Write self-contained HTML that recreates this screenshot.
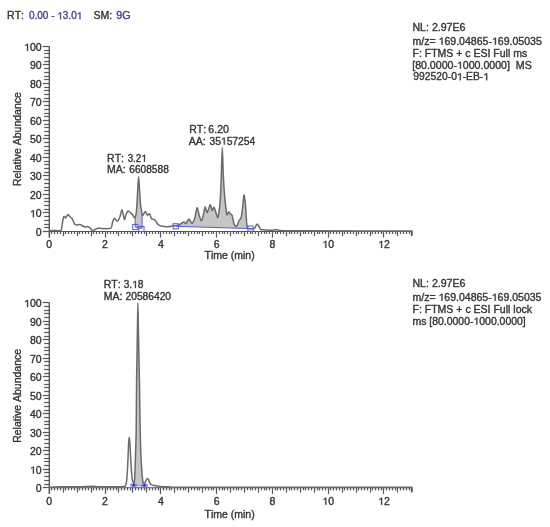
<!DOCTYPE html>
<html><head><meta charset="utf-8">
<style>
html,body{margin:0;padding:0;background:#fff;}
body{width:550px;height:527px;overflow:hidden;position:relative;}
svg{position:absolute;left:0;top:0;will-change:transform;filter:blur(0.45px);}
text{font-family:"Liberation Sans",sans-serif;font-size:10.5px;fill:#363636;stroke:#363636;stroke-width:0.38px;font-kerning:none;}
text.b{fill:#44449a;stroke:#44449a;}
.yl{text-anchor:end;}
.xl{text-anchor:middle;}
.xt{text-anchor:middle;}
.yt{text-anchor:middle;}
.b{fill:#44449a;}
.ax{stroke:#505050;stroke-width:1.05;}
.tk{stroke:#5a5a5a;stroke-width:1.25;}
.cv{fill:none;stroke:#6a6a6a;stroke-width:1.5;stroke-linejoin:round;}
.fl{fill:#c6c6c6;stroke:none;}
.bl{stroke:#5a5ad8;stroke-width:1;}
.bl2{stroke:#9a9af5;stroke-width:1.4;}
.bx{fill:none;stroke:#5a5ad8;stroke-width:1;}
.mk{fill:#7a7af0;opacity:.8;}
.mkc{fill:#2a2ab0;}
tspan.o{fill-opacity:0;stroke-opacity:0;}
.on{fill:#363636;stroke:#363636;stroke-width:0.38px;vector-effect:non-scaling-stroke;}
.ob{fill:#44449a;stroke:#44449a;stroke-width:0.38px;vector-effect:non-scaling-stroke;}
</style></head>
<body>
<svg width="550" height="527" viewBox="0 0 550 527">
<text x="7.1" y="19.3" id="h1" transform="matrix(1 0 0 0.96 0 0.77)">RT:</text>
<text x="28.94" y="19.3" id="h2" class="b" textLength="53.34" lengthAdjust="spacingAndGlyphs" transform="matrix(1 0 0 0.96 0 0.77)">0.00 - <tspan class="o">1</tspan>3.0<tspan class="o">1</tspan></text>
<text x="93.4" y="19.3" id="h3" transform="matrix(1 0 0 0.96 0 0.77)">SM:</text>
<text x="116.21" y="19.3" id="h4" class="b" textLength="14.46" lengthAdjust="spacingAndGlyphs" transform="matrix(1 0 0 0.96 0 0.77)">9G</text>
<text x="412.49" y="31" id="i1" textLength="52.99" lengthAdjust="spacingAndGlyphs" transform="matrix(1 0 0 0.96 0 1.24)">NL: 2.97E6</text>
<text x="412.5" y="44.7" id="i2" textLength="129.34" lengthAdjust="spacingAndGlyphs" transform="matrix(1 0 0 0.96 0 1.79)">m/z= <tspan class="o">1</tspan>69.04865-<tspan class="o">1</tspan>69.05035</text>
<text x="412.5" y="56.9" id="i3" textLength="114.64" lengthAdjust="spacingAndGlyphs" transform="matrix(1 0 0 0.96 0 2.28)">F: FTMS + c ESI Full ms</text>
<text x="412.2" y="68.8" id="i4" textLength="119.52" lengthAdjust="spacingAndGlyphs" transform="matrix(1 0 0 0.96 0 2.75)">[80.0000-<tspan class="o">1</tspan>000.0000]  MS</text>
<text x="413.2" y="80.2" id="i5" textLength="75.86" lengthAdjust="spacingAndGlyphs" transform="matrix(1 0 0 0.96 0 3.21)">992520-0<tspan class="o">1</tspan>-EB-<tspan class="o">1</tspan></text>
<text x="412.49" y="287.1" id="j1" textLength="52.99" lengthAdjust="spacingAndGlyphs" transform="matrix(1 0 0 0.96 0 11.48)">NL: 2.97E6</text>
<text x="412.5" y="300.8" id="j2" textLength="128.93" lengthAdjust="spacingAndGlyphs" transform="matrix(1 0 0 0.96 0 12.03)">m/z= <tspan class="o">1</tspan>69.04865-<tspan class="o">1</tspan>69.05035</text>
<text x="412.5" y="312.9" id="j3" textLength="119.52" lengthAdjust="spacingAndGlyphs" transform="matrix(1 0 0 0.96 0 12.52)">F: FTMS + c ESI Full lock</text>
<text x="412.5" y="324.6" id="j4" textLength="113.25" lengthAdjust="spacingAndGlyphs" transform="matrix(1 0 0 0.96 0 12.98)">ms [80.0000-<tspan class="o">1</tspan>000.0000]</text>
<text x="107.1" y="161.8" id="a1" transform="matrix(1 0 0 0.96 0 6.47)">RT:</text>
<text x="127.67" y="161.8" id="a2" textLength="19.09" lengthAdjust="spacingAndGlyphs" transform="matrix(1 0 0 0.96 0 6.47)">3.2<tspan class="o">1</tspan></text>
<text x="107.1" y="173.4" id="a3" transform="matrix(1 0 0 0.96 0 6.94)">MA:</text>
<text x="129.3" y="173.4" id="a4" textLength="39.49" lengthAdjust="spacingAndGlyphs" transform="matrix(1 0 0 0.96 0 6.94)">6608588</text>
<text x="189.3" y="132.8" id="b1" transform="matrix(1 0 0 0.96 0 5.31)">RT:</text>
<text x="208.35" y="132.8" id="b2" textLength="20.52" lengthAdjust="spacingAndGlyphs" transform="matrix(1 0 0 0.96 0 5.31)">6.20</text>
<text x="188.8" y="144.6" id="b3" transform="matrix(1 0 0 0.96 0 5.78)">AA:</text>
<text x="209.4" y="144.6" id="b4" textLength="45.94" lengthAdjust="spacingAndGlyphs" transform="matrix(1 0 0 0.96 0 5.78)">35<tspan class="o">1</tspan>57254</text>
<text x="103.8" y="287.9" id="c1" transform="matrix(1 0 0 0.96 0 11.52)">RT:</text>
<text x="123.65" y="287.9" id="c2" textLength="19.72" lengthAdjust="spacingAndGlyphs" transform="matrix(1 0 0 0.96 0 11.52)">3.<tspan class="o">1</tspan>8</text>
<text x="103.8" y="299.6" id="c3" transform="matrix(1 0 0 0.96 0 11.98)">MA:</text>
<text x="125.51" y="299.6" id="c4" textLength="45.54" lengthAdjust="spacingAndGlyphs" transform="matrix(1 0 0 0.96 0 11.98)">20586420</text>
<g transform="matrix(1 0 0 0.96 0 0.77)"><path class="ob" transform="translate(57.27 19.3) scale(0.004879 -0.005127)" d="M583 0H763V1409H600L223 1150V980L583 1225Z"/></g>
<g transform="matrix(1 0 0 0.96 0 0.77)"><path class="ob" transform="translate(76.72 19.3) scale(0.004879 -0.005127)" d="M583 0H763V1409H600L223 1150V980L583 1225Z"/></g>
<g transform="matrix(1 0 0 0.96 0 1.79)"><path class="on" transform="translate(438.6 44.7) scale(0.005151 -0.005127)" d="M583 0H763V1409H600L223 1150V980L583 1225Z"/></g>
<g transform="matrix(1 0 0 0.96 0 1.79)"><path class="on" transform="translate(491.97 44.7) scale(0.005151 -0.005127)" d="M583 0H763V1409H600L223 1150V980L583 1225Z"/></g>
<g transform="matrix(1 0 0 0.96 0 2.75)"><path class="on" transform="translate(456.95 68.8) scale(0.005171 -0.005127)" d="M583 0H763V1409H600L223 1150V980L583 1225Z"/></g>
<g transform="matrix(1 0 0 0.96 0 3.21)"><path class="on" transform="translate(456.89 80.2) scale(0.005048 -0.005127)" d="M583 0H763V1409H600L223 1150V980L583 1225Z"/></g>
<g transform="matrix(1 0 0 0.96 0 3.21)"><path class="on" transform="translate(483.31 80.2) scale(0.005048 -0.005127)" d="M583 0H763V1409H600L223 1150V980L583 1225Z"/></g>
<g transform="matrix(1 0 0 0.96 0 12.03)"><path class="on" transform="translate(438.51 300.8) scale(0.005134 -0.005127)" d="M583 0H763V1409H600L223 1150V980L583 1225Z"/></g>
<g transform="matrix(1 0 0 0.96 0 12.03)"><path class="on" transform="translate(491.72 300.8) scale(0.005134 -0.005127)" d="M583 0H763V1409H600L223 1150V980L583 1225Z"/></g>
<g transform="matrix(1 0 0 0.96 0 12.98)"><path class="on" transform="translate(473.47 324.6) scale(0.005100 -0.005127)" d="M583 0H763V1409H600L223 1150V980L583 1225Z"/></g>
<g transform="matrix(1 0 0 0.96 0 6.47)"><path class="on" transform="translate(141.31 161.8) scale(0.004789 -0.005127)" d="M583 0H763V1409H600L223 1150V980L583 1225Z"/></g>
<g transform="matrix(1 0 0 0.96 0 5.78)"><path class="on" transform="translate(220.88 144.6) scale(0.005042 -0.005127)" d="M583 0H763V1409H600L223 1150V980L583 1225Z"/></g>
<g transform="matrix(1 0 0 0.96 0 11.52)"><path class="on" transform="translate(132.1 287.9) scale(0.004947 -0.005127)" d="M583 0H763V1409H600L223 1150V980L583 1225Z"/></g>
<g transform="matrix(1 0 0 0.96 0 8.69)"><path class="on" transform="translate(29.93 217.21) scale(0.005122 -0.005127)" d="M583 0H763V1409H600L223 1150V980L583 1225Z"/></g>
<g transform="matrix(1 0 0 0.96 0 2.03)"><path class="on" transform="translate(24.1 50.8) scale(0.005122 -0.005127)" d="M583 0H763V1409H600L223 1150V980L583 1225Z"/></g>
<g transform="matrix(1 0 0 0.96 0 9.92)"><path class="on" transform="translate(322.37 247.9) scale(0.005122 -0.005127)" d="M583 0H763V1409H600L223 1150V980L583 1225Z"/></g>
<g transform="matrix(1 0 0 0.96 0 9.92)"><path class="on" transform="translate(378.17 247.9) scale(0.005122 -0.005127)" d="M583 0H763V1409H600L223 1150V980L583 1225Z"/></g>
<g transform="matrix(1 0 0 0.96 0 18.94)"><path class="on" transform="translate(29.93 473.59) scale(0.005122 -0.005127)" d="M583 0H763V1409H600L223 1150V980L583 1225Z"/></g>
<g transform="matrix(1 0 0 0.96 0 12.28)"><path class="on" transform="translate(24.1 307) scale(0.005122 -0.005127)" d="M583 0H763V1409H600L223 1150V980L583 1225Z"/></g>
<g transform="matrix(1 0 0 0.96 0 20.19)"><path class="on" transform="translate(322.37 504.8) scale(0.005122 -0.005127)" d="M583 0H763V1409H600L223 1150V980L583 1225Z"/></g>
<g transform="matrix(1 0 0 0.96 0 20.19)"><path class="on" transform="translate(378.17 504.8) scale(0.005122 -0.005127)" d="M583 0H763V1409H600L223 1150V980L583 1225Z"/></g>

<line x1="42.8" y1="231.5" x2="49.2" y2="231.5" class="tk"/>
<text x="41.6" y="235.7" class="yl" transform="matrix(1 0 0 0.96 0 9.43)">0</text>
<line x1="44.2" y1="227.5" x2="49.2" y2="227.5" class="tk"/>
<line x1="44.2" y1="224.5" x2="49.2" y2="224.5" class="tk"/>
<line x1="44.2" y1="220.5" x2="49.2" y2="220.5" class="tk"/>
<line x1="44.2" y1="216.5" x2="49.2" y2="216.5" class="tk"/>
<line x1="42.8" y1="212.5" x2="49.2" y2="212.5" class="tk"/>
<text x="41.6" y="217.21" class="yl" transform="matrix(1 0 0 0.96 0 8.69)"><tspan class="o">1</tspan>0</text>
<line x1="44.2" y1="209.5" x2="49.2" y2="209.5" class="tk"/>
<line x1="44.2" y1="205.5" x2="49.2" y2="205.5" class="tk"/>
<line x1="44.2" y1="201.5" x2="49.2" y2="201.5" class="tk"/>
<line x1="44.2" y1="198.5" x2="49.2" y2="198.5" class="tk"/>
<line x1="42.8" y1="194.5" x2="49.2" y2="194.5" class="tk"/>
<text x="41.6" y="198.72" class="yl" transform="matrix(1 0 0 0.96 0 7.95)">20</text>
<line x1="44.2" y1="190.5" x2="49.2" y2="190.5" class="tk"/>
<line x1="44.2" y1="187.5" x2="49.2" y2="187.5" class="tk"/>
<line x1="44.2" y1="183.5" x2="49.2" y2="183.5" class="tk"/>
<line x1="44.2" y1="179.5" x2="49.2" y2="179.5" class="tk"/>
<line x1="42.8" y1="175.5" x2="49.2" y2="175.5" class="tk"/>
<text x="41.6" y="180.23" class="yl" transform="matrix(1 0 0 0.96 0 7.21)">30</text>
<line x1="44.2" y1="172.5" x2="49.2" y2="172.5" class="tk"/>
<line x1="44.2" y1="168.5" x2="49.2" y2="168.5" class="tk"/>
<line x1="44.2" y1="164.5" x2="49.2" y2="164.5" class="tk"/>
<line x1="44.2" y1="161.5" x2="49.2" y2="161.5" class="tk"/>
<line x1="42.8" y1="157.5" x2="49.2" y2="157.5" class="tk"/>
<text x="41.6" y="161.74" class="yl" transform="matrix(1 0 0 0.96 0 6.47)">40</text>
<line x1="44.2" y1="153.5" x2="49.2" y2="153.5" class="tk"/>
<line x1="44.2" y1="150.5" x2="49.2" y2="150.5" class="tk"/>
<line x1="44.2" y1="146.5" x2="49.2" y2="146.5" class="tk"/>
<line x1="44.2" y1="142.5" x2="49.2" y2="142.5" class="tk"/>
<line x1="42.8" y1="138.5" x2="49.2" y2="138.5" class="tk"/>
<text x="41.6" y="143.25" class="yl" transform="matrix(1 0 0 0.96 0 5.73)">50</text>
<line x1="44.2" y1="135.5" x2="49.2" y2="135.5" class="tk"/>
<line x1="44.2" y1="131.5" x2="49.2" y2="131.5" class="tk"/>
<line x1="44.2" y1="127.5" x2="49.2" y2="127.5" class="tk"/>
<line x1="44.2" y1="124.5" x2="49.2" y2="124.5" class="tk"/>
<line x1="42.8" y1="120.5" x2="49.2" y2="120.5" class="tk"/>
<text x="41.6" y="124.76" class="yl" transform="matrix(1 0 0 0.96 0 4.99)">60</text>
<line x1="44.2" y1="116.5" x2="49.2" y2="116.5" class="tk"/>
<line x1="44.2" y1="113.5" x2="49.2" y2="113.5" class="tk"/>
<line x1="44.2" y1="109.5" x2="49.2" y2="109.5" class="tk"/>
<line x1="44.2" y1="105.5" x2="49.2" y2="105.5" class="tk"/>
<line x1="42.8" y1="101.5" x2="49.2" y2="101.5" class="tk"/>
<text x="41.6" y="106.27" class="yl" transform="matrix(1 0 0 0.96 0 4.25)">70</text>
<line x1="44.2" y1="98.5" x2="49.2" y2="98.5" class="tk"/>
<line x1="44.2" y1="94.5" x2="49.2" y2="94.5" class="tk"/>
<line x1="44.2" y1="90.5" x2="49.2" y2="90.5" class="tk"/>
<line x1="44.2" y1="87.5" x2="49.2" y2="87.5" class="tk"/>
<line x1="42.8" y1="83.5" x2="49.2" y2="83.5" class="tk"/>
<text x="41.6" y="87.78" class="yl" transform="matrix(1 0 0 0.96 0 3.51)">80</text>
<line x1="44.2" y1="79.5" x2="49.2" y2="79.5" class="tk"/>
<line x1="44.2" y1="76.5" x2="49.2" y2="76.5" class="tk"/>
<line x1="44.2" y1="72.5" x2="49.2" y2="72.5" class="tk"/>
<line x1="44.2" y1="68.5" x2="49.2" y2="68.5" class="tk"/>
<line x1="42.8" y1="64.5" x2="49.2" y2="64.5" class="tk"/>
<text x="41.6" y="69.29" class="yl" transform="matrix(1 0 0 0.96 0 2.77)">90</text>
<line x1="44.2" y1="61.5" x2="49.2" y2="61.5" class="tk"/>
<line x1="44.2" y1="57.5" x2="49.2" y2="57.5" class="tk"/>
<line x1="44.2" y1="53.5" x2="49.2" y2="53.5" class="tk"/>
<line x1="44.2" y1="50.5" x2="49.2" y2="50.5" class="tk"/>
<line x1="42.8" y1="46.5" x2="49.2" y2="46.5" class="tk"/>
<text x="41.6" y="50.8" class="yl" transform="matrix(1 0 0 0.96 0 2.03)"><tspan class="o">1</tspan>00</text>
<line x1="49.3" y1="46.3" x2="49.3" y2="237.6" class="ax" style="stroke-width:1.3"/>
<line x1="49.2" y1="231.4" x2="412.68" y2="231.4" class="ax"/>
<line x1="49.5" y1="231.4" x2="49.5" y2="237.6" class="tk"/>
<text x="49.2" y="247.9" class="xl" transform="matrix(1 0 0 0.96 0 9.92)">0</text>
<line x1="51.5" y1="231.4" x2="51.5" y2="234" class="tk"/>
<line x1="54.5" y1="231.4" x2="54.5" y2="234" class="tk"/>
<line x1="57.5" y1="231.4" x2="57.5" y2="234" class="tk"/>
<line x1="60.5" y1="231.4" x2="60.5" y2="234" class="tk"/>
<line x1="63.5" y1="231.4" x2="63.5" y2="236.2" class="tk"/>
<line x1="65.5" y1="231.4" x2="65.5" y2="234" class="tk"/>
<line x1="68.5" y1="231.4" x2="68.5" y2="234" class="tk"/>
<line x1="71.5" y1="231.4" x2="71.5" y2="234" class="tk"/>
<line x1="74.5" y1="231.4" x2="74.5" y2="234" class="tk"/>
<line x1="77.5" y1="231.4" x2="77.5" y2="236.2" class="tk"/>
<line x1="79.5" y1="231.4" x2="79.5" y2="234" class="tk"/>
<line x1="82.5" y1="231.4" x2="82.5" y2="234" class="tk"/>
<line x1="85.5" y1="231.4" x2="85.5" y2="234" class="tk"/>
<line x1="88.5" y1="231.4" x2="88.5" y2="234" class="tk"/>
<line x1="91.5" y1="231.4" x2="91.5" y2="236.2" class="tk"/>
<line x1="93.5" y1="231.4" x2="93.5" y2="234" class="tk"/>
<line x1="96.5" y1="231.4" x2="96.5" y2="234" class="tk"/>
<line x1="99.5" y1="231.4" x2="99.5" y2="234" class="tk"/>
<line x1="102.5" y1="231.4" x2="102.5" y2="234" class="tk"/>
<line x1="105.5" y1="231.4" x2="105.5" y2="237.6" class="tk"/>
<text x="105" y="247.9" class="xl" transform="matrix(1 0 0 0.96 0 9.92)">2</text>
<line x1="107.5" y1="231.4" x2="107.5" y2="234" class="tk"/>
<line x1="110.5" y1="231.4" x2="110.5" y2="234" class="tk"/>
<line x1="113.5" y1="231.4" x2="113.5" y2="234" class="tk"/>
<line x1="116.5" y1="231.4" x2="116.5" y2="234" class="tk"/>
<line x1="118.5" y1="231.4" x2="118.5" y2="236.2" class="tk"/>
<line x1="121.5" y1="231.4" x2="121.5" y2="234" class="tk"/>
<line x1="124.5" y1="231.4" x2="124.5" y2="234" class="tk"/>
<line x1="127.5" y1="231.4" x2="127.5" y2="234" class="tk"/>
<line x1="130.5" y1="231.4" x2="130.5" y2="234" class="tk"/>
<line x1="132.5" y1="231.4" x2="132.5" y2="236.2" class="tk"/>
<line x1="135.5" y1="231.4" x2="135.5" y2="234" class="tk"/>
<line x1="138.5" y1="231.4" x2="138.5" y2="234" class="tk"/>
<line x1="141.5" y1="231.4" x2="141.5" y2="234" class="tk"/>
<line x1="144.5" y1="231.4" x2="144.5" y2="234" class="tk"/>
<line x1="146.5" y1="231.4" x2="146.5" y2="236.2" class="tk"/>
<line x1="149.5" y1="231.4" x2="149.5" y2="234" class="tk"/>
<line x1="152.5" y1="231.4" x2="152.5" y2="234" class="tk"/>
<line x1="155.5" y1="231.4" x2="155.5" y2="234" class="tk"/>
<line x1="158.5" y1="231.4" x2="158.5" y2="234" class="tk"/>
<line x1="160.5" y1="231.4" x2="160.5" y2="237.6" class="tk"/>
<text x="160.8" y="247.9" class="xl" transform="matrix(1 0 0 0.96 0 9.92)">4</text>
<line x1="163.5" y1="231.4" x2="163.5" y2="234" class="tk"/>
<line x1="166.5" y1="231.4" x2="166.5" y2="234" class="tk"/>
<line x1="169.5" y1="231.4" x2="169.5" y2="234" class="tk"/>
<line x1="171.5" y1="231.4" x2="171.5" y2="234" class="tk"/>
<line x1="174.5" y1="231.4" x2="174.5" y2="236.2" class="tk"/>
<line x1="177.5" y1="231.4" x2="177.5" y2="234" class="tk"/>
<line x1="180.5" y1="231.4" x2="180.5" y2="234" class="tk"/>
<line x1="183.5" y1="231.4" x2="183.5" y2="234" class="tk"/>
<line x1="185.5" y1="231.4" x2="185.5" y2="234" class="tk"/>
<line x1="188.5" y1="231.4" x2="188.5" y2="236.2" class="tk"/>
<line x1="191.5" y1="231.4" x2="191.5" y2="234" class="tk"/>
<line x1="194.5" y1="231.4" x2="194.5" y2="234" class="tk"/>
<line x1="197.5" y1="231.4" x2="197.5" y2="234" class="tk"/>
<line x1="199.5" y1="231.4" x2="199.5" y2="234" class="tk"/>
<line x1="202.5" y1="231.4" x2="202.5" y2="236.2" class="tk"/>
<line x1="205.5" y1="231.4" x2="205.5" y2="234" class="tk"/>
<line x1="208.5" y1="231.4" x2="208.5" y2="234" class="tk"/>
<line x1="211.5" y1="231.4" x2="211.5" y2="234" class="tk"/>
<line x1="213.5" y1="231.4" x2="213.5" y2="234" class="tk"/>
<line x1="216.5" y1="231.4" x2="216.5" y2="237.6" class="tk"/>
<text x="216.6" y="247.9" class="xl" transform="matrix(1 0 0 0.96 0 9.92)">6</text>
<line x1="219.5" y1="231.4" x2="219.5" y2="234" class="tk"/>
<line x1="222.5" y1="231.4" x2="222.5" y2="234" class="tk"/>
<line x1="224.5" y1="231.4" x2="224.5" y2="234" class="tk"/>
<line x1="227.5" y1="231.4" x2="227.5" y2="234" class="tk"/>
<line x1="230.5" y1="231.4" x2="230.5" y2="236.2" class="tk"/>
<line x1="233.5" y1="231.4" x2="233.5" y2="234" class="tk"/>
<line x1="236.5" y1="231.4" x2="236.5" y2="234" class="tk"/>
<line x1="238.5" y1="231.4" x2="238.5" y2="234" class="tk"/>
<line x1="241.5" y1="231.4" x2="241.5" y2="234" class="tk"/>
<line x1="244.5" y1="231.4" x2="244.5" y2="236.2" class="tk"/>
<line x1="247.5" y1="231.4" x2="247.5" y2="234" class="tk"/>
<line x1="250.5" y1="231.4" x2="250.5" y2="234" class="tk"/>
<line x1="252.5" y1="231.4" x2="252.5" y2="234" class="tk"/>
<line x1="255.5" y1="231.4" x2="255.5" y2="234" class="tk"/>
<line x1="258.5" y1="231.4" x2="258.5" y2="236.2" class="tk"/>
<line x1="261.5" y1="231.4" x2="261.5" y2="234" class="tk"/>
<line x1="264.5" y1="231.4" x2="264.5" y2="234" class="tk"/>
<line x1="266.5" y1="231.4" x2="266.5" y2="234" class="tk"/>
<line x1="269.5" y1="231.4" x2="269.5" y2="234" class="tk"/>
<line x1="272.5" y1="231.4" x2="272.5" y2="237.6" class="tk"/>
<text x="272.4" y="247.9" class="xl" transform="matrix(1 0 0 0.96 0 9.92)">8</text>
<line x1="275.5" y1="231.4" x2="275.5" y2="234" class="tk"/>
<line x1="277.5" y1="231.4" x2="277.5" y2="234" class="tk"/>
<line x1="280.5" y1="231.4" x2="280.5" y2="234" class="tk"/>
<line x1="283.5" y1="231.4" x2="283.5" y2="234" class="tk"/>
<line x1="286.5" y1="231.4" x2="286.5" y2="236.2" class="tk"/>
<line x1="289.5" y1="231.4" x2="289.5" y2="234" class="tk"/>
<line x1="291.5" y1="231.4" x2="291.5" y2="234" class="tk"/>
<line x1="294.5" y1="231.4" x2="294.5" y2="234" class="tk"/>
<line x1="297.5" y1="231.4" x2="297.5" y2="234" class="tk"/>
<line x1="300.5" y1="231.4" x2="300.5" y2="236.2" class="tk"/>
<line x1="303.5" y1="231.4" x2="303.5" y2="234" class="tk"/>
<line x1="305.5" y1="231.4" x2="305.5" y2="234" class="tk"/>
<line x1="308.5" y1="231.4" x2="308.5" y2="234" class="tk"/>
<line x1="311.5" y1="231.4" x2="311.5" y2="234" class="tk"/>
<line x1="314.5" y1="231.4" x2="314.5" y2="236.2" class="tk"/>
<line x1="317.5" y1="231.4" x2="317.5" y2="234" class="tk"/>
<line x1="319.5" y1="231.4" x2="319.5" y2="234" class="tk"/>
<line x1="322.5" y1="231.4" x2="322.5" y2="234" class="tk"/>
<line x1="325.5" y1="231.4" x2="325.5" y2="234" class="tk"/>
<line x1="328.5" y1="231.4" x2="328.5" y2="237.6" class="tk"/>
<text x="328.2" y="247.9" class="xl" transform="matrix(1 0 0 0.96 0 9.92)"><tspan class="o">1</tspan>0</text>
<line x1="330.5" y1="231.4" x2="330.5" y2="234" class="tk"/>
<line x1="333.5" y1="231.4" x2="333.5" y2="234" class="tk"/>
<line x1="336.5" y1="231.4" x2="336.5" y2="234" class="tk"/>
<line x1="339.5" y1="231.4" x2="339.5" y2="234" class="tk"/>
<line x1="342.5" y1="231.4" x2="342.5" y2="236.2" class="tk"/>
<line x1="344.5" y1="231.4" x2="344.5" y2="234" class="tk"/>
<line x1="347.5" y1="231.4" x2="347.5" y2="234" class="tk"/>
<line x1="350.5" y1="231.4" x2="350.5" y2="234" class="tk"/>
<line x1="353.5" y1="231.4" x2="353.5" y2="234" class="tk"/>
<line x1="356.5" y1="231.4" x2="356.5" y2="236.2" class="tk"/>
<line x1="358.5" y1="231.4" x2="358.5" y2="234" class="tk"/>
<line x1="361.5" y1="231.4" x2="361.5" y2="234" class="tk"/>
<line x1="364.5" y1="231.4" x2="364.5" y2="234" class="tk"/>
<line x1="367.5" y1="231.4" x2="367.5" y2="234" class="tk"/>
<line x1="370.5" y1="231.4" x2="370.5" y2="236.2" class="tk"/>
<line x1="372.5" y1="231.4" x2="372.5" y2="234" class="tk"/>
<line x1="375.5" y1="231.4" x2="375.5" y2="234" class="tk"/>
<line x1="378.5" y1="231.4" x2="378.5" y2="234" class="tk"/>
<line x1="381.5" y1="231.4" x2="381.5" y2="234" class="tk"/>
<line x1="383.5" y1="231.4" x2="383.5" y2="237.6" class="tk"/>
<text x="384" y="247.9" class="xl" transform="matrix(1 0 0 0.96 0 9.92)"><tspan class="o">1</tspan>2</text>
<line x1="386.5" y1="231.4" x2="386.5" y2="234" class="tk"/>
<line x1="389.5" y1="231.4" x2="389.5" y2="234" class="tk"/>
<line x1="392.5" y1="231.4" x2="392.5" y2="234" class="tk"/>
<line x1="395.5" y1="231.4" x2="395.5" y2="234" class="tk"/>
<line x1="397.5" y1="231.4" x2="397.5" y2="236.2" class="tk"/>
<line x1="400.5" y1="231.4" x2="400.5" y2="234" class="tk"/>
<line x1="403.5" y1="231.4" x2="403.5" y2="234" class="tk"/>
<line x1="406.5" y1="231.4" x2="406.5" y2="234" class="tk"/>
<line x1="409.5" y1="231.4" x2="409.5" y2="234" class="tk"/>
<line x1="411.5" y1="231.4" x2="411.5" y2="236.2" class="tk"/>
<line x1="412.18" y1="231.4" x2="412.18" y2="235.4" class="tk"/>
<text class="yt" transform="translate(20.8 139.15) rotate(-90) scale(1 0.96)">Relative Abundance</text>
<text x="229.6" y="258.9" class="xt" transform="matrix(1 0 0 0.96 0 10.36)">Time (min)</text>
<path d="M135.2 216.4 C135.32 216.05 136 214.74 136.2 213.4 C136.4 212.06 136.74 207.4 136.9 204.9 C137.06 202.4 137.4 195.3 137.6 192 C137.8 188.7 138.35 176.6 138.6 176.6 C138.84 176.6 139.48 188.7 139.7 192 C139.92 195.3 140.27 202.57 140.5 204.9 C140.73 207.23 141.51 210.94 141.7 212 C141.89 213.06 142.05 213.72 142.1 213.94 L142.1 228.4 L135.2 227 Z" class="fl"/>
<path d="M175.8 225.58 C175.92 225.57 176.32 225.63 176.8 225.5 C177.28 225.37 179.29 224.81 179.9 224.5 C180.51 224.19 181.52 223.09 182 222.8 C182.48 222.51 183.53 221.91 184 222 C184.47 222.09 185.43 223.94 186 223.6 C186.57 223.26 188.22 219.15 188.9 219.1 C189.58 219.05 191.14 223.25 191.8 223.2 C192.47 223.15 193.98 220.51 194.6 218.7 C195.22 216.89 196.53 207.98 197.1 207.7 C197.67 207.42 198.97 214.77 199.5 216.3 C200.03 217.83 201.12 221.09 201.6 220.8 C202.08 220.51 203.19 215.42 203.6 213.8 C204.01 212.18 204.67 207.04 205.1 206.9 C205.53 206.76 206.71 212.84 207.3 212.6 C207.9 212.35 209.63 205.05 210.2 204.8 C210.77 204.56 211.74 210.21 212.2 210.5 C212.66 210.79 213.62 206.92 214.1 207.3 C214.58 207.69 215.86 212.61 216.3 213.8 C216.74 214.99 217.55 217.98 217.9 217.5 C218.25 217.02 219.01 211.96 219.3 209.7 C219.59 207.44 220.17 202.11 220.4 198.1 C220.63 194.09 221.08 181.19 221.3 175.3 C221.52 169.41 222.07 147.6 222.3 147.6 C222.53 147.6 223.01 169.41 223.3 175.3 C223.59 181.19 224.44 193.82 224.8 198.1 C225.16 202.38 226.16 210.03 226.4 212 C226.65 213.97 226.62 215.03 226.9 215 C227.18 214.97 228.42 211.83 228.8 211.7 C229.19 211.57 229.81 213.48 230.2 213.9 C230.58 214.32 231.66 214.13 232.1 215.3 C232.54 216.47 233.56 222.59 234 223.9 C234.44 225.21 235.52 226.4 235.9 226.5 C236.28 226.6 236.92 225.5 237.3 224.8 C237.69 224.1 238.76 221.33 239.2 220.5 C239.64 219.67 240.72 219.08 241.1 217.7 C241.48 216.32 242.16 211.35 242.5 208.7 C242.84 206.05 243.66 195.55 244 195 C244.34 194.45 245.13 201.29 245.4 204 C245.67 206.71 246.08 215.44 246.3 218.2 C246.52 220.96 247.02 226.49 247.3 227.7 C247.58 228.91 248.33 228.48 248.7 228.6 C249.07 228.72 250.29 228.68 250.5 228.69 L250.5 228.6 L175.8 226.3 Z" class="fl"/>
<path d="M49.3 230.8 C49.81 230.75 52.34 230.45 53.7 230.4 C55.07 230.35 60.01 231.15 61 230.4 C61.99 229.65 61.94 225.39 62.2 224 C62.46 222.61 62.98 219.4 63.2 218.5 C63.42 217.6 63.81 216.37 64.1 216.3 C64.39 216.23 65.26 218.12 65.7 217.9 C66.14 217.68 67.46 214.59 67.9 214.4 C68.34 214.21 68.99 215.76 69.5 216.3 C70.01 216.84 71.72 218.11 72.3 219 C72.88 219.89 74 223.2 74.5 223.9 C75 224.6 75.97 224.93 76.6 225 C77.23 225.07 79.26 224.44 79.9 224.5 C80.54 224.56 81.53 225.21 82.1 225.5 C82.67 225.79 84.17 226.87 84.8 227 C85.43 227.13 86.93 226.52 87.5 226.6 C88.07 226.68 89.06 227.19 89.7 227.7 C90.34 228.21 92.36 230.8 93 231 C93.64 231.2 94.56 229.75 95.2 229.4 C95.84 229.05 97.74 228.09 98.5 228 C99.26 227.91 100.25 228.58 101.7 228.6 C103.15 228.62 109.66 228.84 110.9 228.2 C112.14 227.56 111.89 224.27 112.3 223.1 C112.71 221.93 113.84 218.41 114.4 218.2 C114.96 217.99 116.46 221.44 117.1 221.3 C117.74 221.16 119.33 218.32 119.9 217 C120.47 215.68 121.47 209.71 122 210 C122.53 210.29 123.93 218.97 124.4 219.5 C124.87 220.03 125.57 215.5 126 214.5 C126.43 213.5 127.5 211.03 128.1 210.9 C128.69 210.77 130.54 212.9 131.1 213.4 C131.66 213.9 132.48 214.67 132.9 215.2 C133.32 215.72 134.31 218.11 134.7 217.9 C135.08 217.69 135.94 214.92 136.2 213.4 C136.46 211.88 136.74 207.4 136.9 204.9 C137.06 202.4 137.4 195.3 137.6 192 C137.8 188.7 138.35 176.6 138.6 176.6 C138.84 176.6 139.48 188.7 139.7 192 C139.92 195.3 140.27 202.57 140.5 204.9 C140.73 207.23 141.48 210.78 141.7 212 C141.92 213.22 142.18 215.14 142.4 215.4 C142.62 215.66 143.25 214.67 143.6 214.2 C143.95 213.73 144.94 211.28 145.4 211.4 C145.86 211.52 147.02 214.93 147.5 215.2 C147.98 215.47 149.02 213.29 149.5 213.7 C149.98 214.11 151.12 218.03 151.6 218.7 C152.08 219.36 153.19 219.22 153.6 219.4 C154.01 219.58 154.68 219.73 155.1 220.2 C155.52 220.67 156.69 222.81 157.2 223.4 C157.71 224 158.87 224.96 159.5 225.3 C160.13 225.64 161.84 226.12 162.6 226.3 C163.36 226.48 165.23 226.77 166 226.8 C166.77 226.84 168.38 226.72 169.2 226.6 C170.02 226.48 172.11 225.93 173 225.8 C173.89 225.67 176 225.65 176.8 225.5 C177.61 225.35 179.29 224.81 179.9 224.5 C180.51 224.19 181.52 223.09 182 222.8 C182.48 222.51 183.53 221.91 184 222 C184.47 222.09 185.43 223.94 186 223.6 C186.57 223.26 188.22 219.15 188.9 219.1 C189.58 219.05 191.14 223.25 191.8 223.2 C192.47 223.15 193.98 220.51 194.6 218.7 C195.22 216.89 196.53 207.98 197.1 207.7 C197.67 207.42 198.97 214.77 199.5 216.3 C200.03 217.83 201.12 221.09 201.6 220.8 C202.08 220.51 203.19 215.42 203.6 213.8 C204.01 212.18 204.67 207.04 205.1 206.9 C205.53 206.76 206.71 212.84 207.3 212.6 C207.9 212.35 209.63 205.05 210.2 204.8 C210.77 204.56 211.74 210.21 212.2 210.5 C212.66 210.79 213.62 206.92 214.1 207.3 C214.58 207.69 215.86 212.61 216.3 213.8 C216.74 214.99 217.55 217.98 217.9 217.5 C218.25 217.02 219.01 211.96 219.3 209.7 C219.59 207.44 220.17 202.11 220.4 198.1 C220.63 194.09 221.08 181.19 221.3 175.3 C221.52 169.41 222.07 147.6 222.3 147.6 C222.53 147.6 223.01 169.41 223.3 175.3 C223.59 181.19 224.44 193.82 224.8 198.1 C225.16 202.38 226.16 210.03 226.4 212 C226.65 213.97 226.62 215.03 226.9 215 C227.18 214.97 228.42 211.83 228.8 211.7 C229.19 211.57 229.81 213.48 230.2 213.9 C230.58 214.32 231.66 214.13 232.1 215.3 C232.54 216.47 233.56 222.59 234 223.9 C234.44 225.21 235.52 226.4 235.9 226.5 C236.28 226.6 236.92 225.5 237.3 224.8 C237.69 224.1 238.76 221.33 239.2 220.5 C239.64 219.67 240.72 219.08 241.1 217.7 C241.48 216.32 242.16 211.35 242.5 208.7 C242.84 206.05 243.66 195.55 244 195 C244.34 194.45 245.13 201.29 245.4 204 C245.67 206.71 246.08 215.44 246.3 218.2 C246.52 220.96 247.02 226.49 247.3 227.7 C247.58 228.91 248.09 228.47 248.7 228.6 C249.31 228.73 251.84 228.8 252.5 228.8 C253.16 228.8 253.85 229.17 254.4 228.6 C254.95 228.03 256.59 224 257.2 223.9 C257.81 223.8 259.16 227.02 259.6 227.7 C260.04 228.38 260.35 229.44 261 229.7 C261.65 229.96 264.03 229.83 265.2 229.9 C266.37 229.97 269.65 230.34 271 230.3 C272.35 230.27 275.79 229.59 276.8 229.6 C277.81 229.61 276.64 230.26 279.7 230.4 C282.76 230.54 287.53 230.73 303 230.8 C318.47 230.87 399.55 230.98 412.3 231" class="cv"/>
<line x1="135.2" y1="216.4" x2="135.2" y2="227.0" class="bl"/>
<line x1="142.1" y1="213.94" x2="142.1" y2="228.4" class="bl"/>
<line x1="135.2" y1="227.0" x2="142.1" y2="228.4" class="bl"/>
<line x1="175.8" y1="226.3" x2="250.5" y2="228.6" class="bl"/>
<rect x="132.7" y="224.4" width="5.2" height="5.2" class="bx"/>
<rect x="138.8" y="226.4" width="5.2" height="5.2" class="bx"/>
<rect x="173.2" y="223.7" width="5.2" height="5.2" class="bx"/>
<rect x="247.9" y="226" width="5.2" height="5.2" class="bx"/>
<line x1="42.8" y1="487.5" x2="49.2" y2="487.5" class="tk"/>
<text x="41.6" y="492.1" class="yl" transform="matrix(1 0 0 0.96 0 19.68)">0</text>
<line x1="44.2" y1="484.5" x2="49.2" y2="484.5" class="tk"/>
<line x1="44.2" y1="480.5" x2="49.2" y2="480.5" class="tk"/>
<line x1="44.2" y1="476.5" x2="49.2" y2="476.5" class="tk"/>
<line x1="44.2" y1="472.5" x2="49.2" y2="472.5" class="tk"/>
<line x1="42.8" y1="469.5" x2="49.2" y2="469.5" class="tk"/>
<text x="41.6" y="473.59" class="yl" transform="matrix(1 0 0 0.96 0 18.94)"><tspan class="o">1</tspan>0</text>
<line x1="44.2" y1="465.5" x2="49.2" y2="465.5" class="tk"/>
<line x1="44.2" y1="461.5" x2="49.2" y2="461.5" class="tk"/>
<line x1="44.2" y1="458.5" x2="49.2" y2="458.5" class="tk"/>
<line x1="44.2" y1="454.5" x2="49.2" y2="454.5" class="tk"/>
<line x1="42.8" y1="450.5" x2="49.2" y2="450.5" class="tk"/>
<text x="41.6" y="455.08" class="yl" transform="matrix(1 0 0 0.96 0 18.2)">20</text>
<line x1="44.2" y1="447.5" x2="49.2" y2="447.5" class="tk"/>
<line x1="44.2" y1="443.5" x2="49.2" y2="443.5" class="tk"/>
<line x1="44.2" y1="439.5" x2="49.2" y2="439.5" class="tk"/>
<line x1="44.2" y1="435.5" x2="49.2" y2="435.5" class="tk"/>
<line x1="42.8" y1="432.5" x2="49.2" y2="432.5" class="tk"/>
<text x="41.6" y="436.57" class="yl" transform="matrix(1 0 0 0.96 0 17.46)">30</text>
<line x1="44.2" y1="428.5" x2="49.2" y2="428.5" class="tk"/>
<line x1="44.2" y1="424.5" x2="49.2" y2="424.5" class="tk"/>
<line x1="44.2" y1="421.5" x2="49.2" y2="421.5" class="tk"/>
<line x1="44.2" y1="417.5" x2="49.2" y2="417.5" class="tk"/>
<line x1="42.8" y1="413.5" x2="49.2" y2="413.5" class="tk"/>
<text x="41.6" y="418.06" class="yl" transform="matrix(1 0 0 0.96 0 16.72)">40</text>
<line x1="44.2" y1="410.5" x2="49.2" y2="410.5" class="tk"/>
<line x1="44.2" y1="406.5" x2="49.2" y2="406.5" class="tk"/>
<line x1="44.2" y1="402.5" x2="49.2" y2="402.5" class="tk"/>
<line x1="44.2" y1="398.5" x2="49.2" y2="398.5" class="tk"/>
<line x1="42.8" y1="395.5" x2="49.2" y2="395.5" class="tk"/>
<text x="41.6" y="399.55" class="yl" transform="matrix(1 0 0 0.96 0 15.98)">50</text>
<line x1="44.2" y1="391.5" x2="49.2" y2="391.5" class="tk"/>
<line x1="44.2" y1="387.5" x2="49.2" y2="387.5" class="tk"/>
<line x1="44.2" y1="384.5" x2="49.2" y2="384.5" class="tk"/>
<line x1="44.2" y1="380.5" x2="49.2" y2="380.5" class="tk"/>
<line x1="42.8" y1="376.5" x2="49.2" y2="376.5" class="tk"/>
<text x="41.6" y="381.04" class="yl" transform="matrix(1 0 0 0.96 0 15.24)">60</text>
<line x1="44.2" y1="373.5" x2="49.2" y2="373.5" class="tk"/>
<line x1="44.2" y1="369.5" x2="49.2" y2="369.5" class="tk"/>
<line x1="44.2" y1="365.5" x2="49.2" y2="365.5" class="tk"/>
<line x1="44.2" y1="361.5" x2="49.2" y2="361.5" class="tk"/>
<line x1="42.8" y1="358.5" x2="49.2" y2="358.5" class="tk"/>
<text x="41.6" y="362.53" class="yl" transform="matrix(1 0 0 0.96 0 14.5)">70</text>
<line x1="44.2" y1="354.5" x2="49.2" y2="354.5" class="tk"/>
<line x1="44.2" y1="350.5" x2="49.2" y2="350.5" class="tk"/>
<line x1="44.2" y1="347.5" x2="49.2" y2="347.5" class="tk"/>
<line x1="44.2" y1="343.5" x2="49.2" y2="343.5" class="tk"/>
<line x1="42.8" y1="339.5" x2="49.2" y2="339.5" class="tk"/>
<text x="41.6" y="344.02" class="yl" transform="matrix(1 0 0 0.96 0 13.76)">80</text>
<line x1="44.2" y1="336.5" x2="49.2" y2="336.5" class="tk"/>
<line x1="44.2" y1="332.5" x2="49.2" y2="332.5" class="tk"/>
<line x1="44.2" y1="328.5" x2="49.2" y2="328.5" class="tk"/>
<line x1="44.2" y1="324.5" x2="49.2" y2="324.5" class="tk"/>
<line x1="42.8" y1="321.5" x2="49.2" y2="321.5" class="tk"/>
<text x="41.6" y="325.51" class="yl" transform="matrix(1 0 0 0.96 0 13.02)">90</text>
<line x1="44.2" y1="317.5" x2="49.2" y2="317.5" class="tk"/>
<line x1="44.2" y1="313.5" x2="49.2" y2="313.5" class="tk"/>
<line x1="44.2" y1="310.5" x2="49.2" y2="310.5" class="tk"/>
<line x1="44.2" y1="306.5" x2="49.2" y2="306.5" class="tk"/>
<line x1="42.8" y1="302.5" x2="49.2" y2="302.5" class="tk"/>
<text x="41.6" y="307" class="yl" transform="matrix(1 0 0 0.96 0 12.28)"><tspan class="o">1</tspan>00</text>
<line x1="49.3" y1="302.5" x2="49.3" y2="494" class="ax" style="stroke-width:1.3"/>
<line x1="49.2" y1="487.8" x2="412.68" y2="487.8" class="ax"/>
<line x1="49.5" y1="487.8" x2="49.5" y2="494" class="tk"/>
<text x="49.2" y="504.8" class="xl" transform="matrix(1 0 0 0.96 0 20.19)">0</text>
<line x1="51.5" y1="487.8" x2="51.5" y2="490.4" class="tk"/>
<line x1="54.5" y1="487.8" x2="54.5" y2="490.4" class="tk"/>
<line x1="57.5" y1="487.8" x2="57.5" y2="490.4" class="tk"/>
<line x1="60.5" y1="487.8" x2="60.5" y2="490.4" class="tk"/>
<line x1="63.5" y1="487.8" x2="63.5" y2="492.6" class="tk"/>
<line x1="65.5" y1="487.8" x2="65.5" y2="490.4" class="tk"/>
<line x1="68.5" y1="487.8" x2="68.5" y2="490.4" class="tk"/>
<line x1="71.5" y1="487.8" x2="71.5" y2="490.4" class="tk"/>
<line x1="74.5" y1="487.8" x2="74.5" y2="490.4" class="tk"/>
<line x1="77.5" y1="487.8" x2="77.5" y2="492.6" class="tk"/>
<line x1="79.5" y1="487.8" x2="79.5" y2="490.4" class="tk"/>
<line x1="82.5" y1="487.8" x2="82.5" y2="490.4" class="tk"/>
<line x1="85.5" y1="487.8" x2="85.5" y2="490.4" class="tk"/>
<line x1="88.5" y1="487.8" x2="88.5" y2="490.4" class="tk"/>
<line x1="91.5" y1="487.8" x2="91.5" y2="492.6" class="tk"/>
<line x1="93.5" y1="487.8" x2="93.5" y2="490.4" class="tk"/>
<line x1="96.5" y1="487.8" x2="96.5" y2="490.4" class="tk"/>
<line x1="99.5" y1="487.8" x2="99.5" y2="490.4" class="tk"/>
<line x1="102.5" y1="487.8" x2="102.5" y2="490.4" class="tk"/>
<line x1="105.5" y1="487.8" x2="105.5" y2="494" class="tk"/>
<text x="105" y="504.8" class="xl" transform="matrix(1 0 0 0.96 0 20.19)">2</text>
<line x1="107.5" y1="487.8" x2="107.5" y2="490.4" class="tk"/>
<line x1="110.5" y1="487.8" x2="110.5" y2="490.4" class="tk"/>
<line x1="113.5" y1="487.8" x2="113.5" y2="490.4" class="tk"/>
<line x1="116.5" y1="487.8" x2="116.5" y2="490.4" class="tk"/>
<line x1="118.5" y1="487.8" x2="118.5" y2="492.6" class="tk"/>
<line x1="121.5" y1="487.8" x2="121.5" y2="490.4" class="tk"/>
<line x1="124.5" y1="487.8" x2="124.5" y2="490.4" class="tk"/>
<line x1="127.5" y1="487.8" x2="127.5" y2="490.4" class="tk"/>
<line x1="130.5" y1="487.8" x2="130.5" y2="490.4" class="tk"/>
<line x1="132.5" y1="487.8" x2="132.5" y2="492.6" class="tk"/>
<line x1="135.5" y1="487.8" x2="135.5" y2="490.4" class="tk"/>
<line x1="138.5" y1="487.8" x2="138.5" y2="490.4" class="tk"/>
<line x1="141.5" y1="487.8" x2="141.5" y2="490.4" class="tk"/>
<line x1="144.5" y1="487.8" x2="144.5" y2="490.4" class="tk"/>
<line x1="146.5" y1="487.8" x2="146.5" y2="492.6" class="tk"/>
<line x1="149.5" y1="487.8" x2="149.5" y2="490.4" class="tk"/>
<line x1="152.5" y1="487.8" x2="152.5" y2="490.4" class="tk"/>
<line x1="155.5" y1="487.8" x2="155.5" y2="490.4" class="tk"/>
<line x1="158.5" y1="487.8" x2="158.5" y2="490.4" class="tk"/>
<line x1="160.5" y1="487.8" x2="160.5" y2="494" class="tk"/>
<text x="160.8" y="504.8" class="xl" transform="matrix(1 0 0 0.96 0 20.19)">4</text>
<line x1="163.5" y1="487.8" x2="163.5" y2="490.4" class="tk"/>
<line x1="166.5" y1="487.8" x2="166.5" y2="490.4" class="tk"/>
<line x1="169.5" y1="487.8" x2="169.5" y2="490.4" class="tk"/>
<line x1="171.5" y1="487.8" x2="171.5" y2="490.4" class="tk"/>
<line x1="174.5" y1="487.8" x2="174.5" y2="492.6" class="tk"/>
<line x1="177.5" y1="487.8" x2="177.5" y2="490.4" class="tk"/>
<line x1="180.5" y1="487.8" x2="180.5" y2="490.4" class="tk"/>
<line x1="183.5" y1="487.8" x2="183.5" y2="490.4" class="tk"/>
<line x1="185.5" y1="487.8" x2="185.5" y2="490.4" class="tk"/>
<line x1="188.5" y1="487.8" x2="188.5" y2="492.6" class="tk"/>
<line x1="191.5" y1="487.8" x2="191.5" y2="490.4" class="tk"/>
<line x1="194.5" y1="487.8" x2="194.5" y2="490.4" class="tk"/>
<line x1="197.5" y1="487.8" x2="197.5" y2="490.4" class="tk"/>
<line x1="199.5" y1="487.8" x2="199.5" y2="490.4" class="tk"/>
<line x1="202.5" y1="487.8" x2="202.5" y2="492.6" class="tk"/>
<line x1="205.5" y1="487.8" x2="205.5" y2="490.4" class="tk"/>
<line x1="208.5" y1="487.8" x2="208.5" y2="490.4" class="tk"/>
<line x1="211.5" y1="487.8" x2="211.5" y2="490.4" class="tk"/>
<line x1="213.5" y1="487.8" x2="213.5" y2="490.4" class="tk"/>
<line x1="216.5" y1="487.8" x2="216.5" y2="494" class="tk"/>
<text x="216.6" y="504.8" class="xl" transform="matrix(1 0 0 0.96 0 20.19)">6</text>
<line x1="219.5" y1="487.8" x2="219.5" y2="490.4" class="tk"/>
<line x1="222.5" y1="487.8" x2="222.5" y2="490.4" class="tk"/>
<line x1="224.5" y1="487.8" x2="224.5" y2="490.4" class="tk"/>
<line x1="227.5" y1="487.8" x2="227.5" y2="490.4" class="tk"/>
<line x1="230.5" y1="487.8" x2="230.5" y2="492.6" class="tk"/>
<line x1="233.5" y1="487.8" x2="233.5" y2="490.4" class="tk"/>
<line x1="236.5" y1="487.8" x2="236.5" y2="490.4" class="tk"/>
<line x1="238.5" y1="487.8" x2="238.5" y2="490.4" class="tk"/>
<line x1="241.5" y1="487.8" x2="241.5" y2="490.4" class="tk"/>
<line x1="244.5" y1="487.8" x2="244.5" y2="492.6" class="tk"/>
<line x1="247.5" y1="487.8" x2="247.5" y2="490.4" class="tk"/>
<line x1="250.5" y1="487.8" x2="250.5" y2="490.4" class="tk"/>
<line x1="252.5" y1="487.8" x2="252.5" y2="490.4" class="tk"/>
<line x1="255.5" y1="487.8" x2="255.5" y2="490.4" class="tk"/>
<line x1="258.5" y1="487.8" x2="258.5" y2="492.6" class="tk"/>
<line x1="261.5" y1="487.8" x2="261.5" y2="490.4" class="tk"/>
<line x1="264.5" y1="487.8" x2="264.5" y2="490.4" class="tk"/>
<line x1="266.5" y1="487.8" x2="266.5" y2="490.4" class="tk"/>
<line x1="269.5" y1="487.8" x2="269.5" y2="490.4" class="tk"/>
<line x1="272.5" y1="487.8" x2="272.5" y2="494" class="tk"/>
<text x="272.4" y="504.8" class="xl" transform="matrix(1 0 0 0.96 0 20.19)">8</text>
<line x1="275.5" y1="487.8" x2="275.5" y2="490.4" class="tk"/>
<line x1="277.5" y1="487.8" x2="277.5" y2="490.4" class="tk"/>
<line x1="280.5" y1="487.8" x2="280.5" y2="490.4" class="tk"/>
<line x1="283.5" y1="487.8" x2="283.5" y2="490.4" class="tk"/>
<line x1="286.5" y1="487.8" x2="286.5" y2="492.6" class="tk"/>
<line x1="289.5" y1="487.8" x2="289.5" y2="490.4" class="tk"/>
<line x1="291.5" y1="487.8" x2="291.5" y2="490.4" class="tk"/>
<line x1="294.5" y1="487.8" x2="294.5" y2="490.4" class="tk"/>
<line x1="297.5" y1="487.8" x2="297.5" y2="490.4" class="tk"/>
<line x1="300.5" y1="487.8" x2="300.5" y2="492.6" class="tk"/>
<line x1="303.5" y1="487.8" x2="303.5" y2="490.4" class="tk"/>
<line x1="305.5" y1="487.8" x2="305.5" y2="490.4" class="tk"/>
<line x1="308.5" y1="487.8" x2="308.5" y2="490.4" class="tk"/>
<line x1="311.5" y1="487.8" x2="311.5" y2="490.4" class="tk"/>
<line x1="314.5" y1="487.8" x2="314.5" y2="492.6" class="tk"/>
<line x1="317.5" y1="487.8" x2="317.5" y2="490.4" class="tk"/>
<line x1="319.5" y1="487.8" x2="319.5" y2="490.4" class="tk"/>
<line x1="322.5" y1="487.8" x2="322.5" y2="490.4" class="tk"/>
<line x1="325.5" y1="487.8" x2="325.5" y2="490.4" class="tk"/>
<line x1="328.5" y1="487.8" x2="328.5" y2="494" class="tk"/>
<text x="328.2" y="504.8" class="xl" transform="matrix(1 0 0 0.96 0 20.19)"><tspan class="o">1</tspan>0</text>
<line x1="330.5" y1="487.8" x2="330.5" y2="490.4" class="tk"/>
<line x1="333.5" y1="487.8" x2="333.5" y2="490.4" class="tk"/>
<line x1="336.5" y1="487.8" x2="336.5" y2="490.4" class="tk"/>
<line x1="339.5" y1="487.8" x2="339.5" y2="490.4" class="tk"/>
<line x1="342.5" y1="487.8" x2="342.5" y2="492.6" class="tk"/>
<line x1="344.5" y1="487.8" x2="344.5" y2="490.4" class="tk"/>
<line x1="347.5" y1="487.8" x2="347.5" y2="490.4" class="tk"/>
<line x1="350.5" y1="487.8" x2="350.5" y2="490.4" class="tk"/>
<line x1="353.5" y1="487.8" x2="353.5" y2="490.4" class="tk"/>
<line x1="356.5" y1="487.8" x2="356.5" y2="492.6" class="tk"/>
<line x1="358.5" y1="487.8" x2="358.5" y2="490.4" class="tk"/>
<line x1="361.5" y1="487.8" x2="361.5" y2="490.4" class="tk"/>
<line x1="364.5" y1="487.8" x2="364.5" y2="490.4" class="tk"/>
<line x1="367.5" y1="487.8" x2="367.5" y2="490.4" class="tk"/>
<line x1="370.5" y1="487.8" x2="370.5" y2="492.6" class="tk"/>
<line x1="372.5" y1="487.8" x2="372.5" y2="490.4" class="tk"/>
<line x1="375.5" y1="487.8" x2="375.5" y2="490.4" class="tk"/>
<line x1="378.5" y1="487.8" x2="378.5" y2="490.4" class="tk"/>
<line x1="381.5" y1="487.8" x2="381.5" y2="490.4" class="tk"/>
<line x1="383.5" y1="487.8" x2="383.5" y2="494" class="tk"/>
<text x="384" y="504.8" class="xl" transform="matrix(1 0 0 0.96 0 20.19)"><tspan class="o">1</tspan>2</text>
<line x1="386.5" y1="487.8" x2="386.5" y2="490.4" class="tk"/>
<line x1="389.5" y1="487.8" x2="389.5" y2="490.4" class="tk"/>
<line x1="392.5" y1="487.8" x2="392.5" y2="490.4" class="tk"/>
<line x1="395.5" y1="487.8" x2="395.5" y2="490.4" class="tk"/>
<line x1="397.5" y1="487.8" x2="397.5" y2="492.6" class="tk"/>
<line x1="400.5" y1="487.8" x2="400.5" y2="490.4" class="tk"/>
<line x1="403.5" y1="487.8" x2="403.5" y2="490.4" class="tk"/>
<line x1="406.5" y1="487.8" x2="406.5" y2="490.4" class="tk"/>
<line x1="409.5" y1="487.8" x2="409.5" y2="490.4" class="tk"/>
<line x1="411.5" y1="487.8" x2="411.5" y2="492.6" class="tk"/>
<line x1="412.18" y1="487.8" x2="412.18" y2="491.8" class="tk"/>
<text class="yt" transform="translate(20.8 395.85) rotate(-90) scale(1 0.96)">Relative Abundance</text>
<text x="229.6" y="517.8" class="xt" transform="matrix(1 0 0 0.96 0 20.71)">Time (min)</text>
<path d="M133.7 483 C133.79 482.7 134.37 481.23 134.5 480.4 C134.63 479.57 134.67 479.08 134.8 475.9 C134.93 472.71 135.44 458.41 135.6 453.1 C135.76 447.79 136.08 438.88 136.2 430.4 C136.32 421.92 136.46 392.07 136.6 380.4 C136.74 368.73 137.25 339.44 137.4 330.4 C137.55 321.36 137.78 302.9 137.9 302.9 C138.02 302.9 138.22 321.36 138.4 330.4 C138.58 339.44 139.19 368.73 139.4 380.4 C139.61 392.07 140.04 421.92 140.2 430.4 C140.36 438.88 140.57 447.79 140.8 453.1 C141.03 458.41 141.92 472.45 142.2 475.9 C142.48 479.35 142.95 481.82 143.2 482.7 C143.44 483.57 144.16 483.33 144.3 483.4 C144.44 483.47 144.39 483.28 144.4 483.26 L144.4 485.85 L133.7 485.65 Z" class="fl"/>
<path d="M49.3 487.2 C50.55 487.15 56.42 486.86 60 486.8 C63.58 486.74 76.27 486.77 80 486.7 C83.73 486.63 89.67 486.2 92 486.2 C94.33 486.2 96.73 486.64 100 486.7 C103.27 486.76 117.06 486.76 120 486.7 C122.94 486.64 124.47 486.67 125.2 486.2 C125.94 485.73 126.11 483.52 126.3 482.7 C126.49 481.88 126.63 481.33 126.8 479.2 C126.97 477.06 127.54 468.58 127.75 464.4 C127.96 460.22 128.43 446.57 128.6 443.4 C128.77 440.23 129.05 437.2 129.2 437.2 C129.35 437.2 129.69 440.23 129.9 443.4 C130.11 446.57 130.73 460.22 131 464.4 C131.27 468.58 131.88 477.03 132.2 479.2 C132.51 481.37 133.43 482.86 133.7 483 C133.97 483.14 134.37 481.23 134.5 480.4 C134.63 479.57 134.67 479.08 134.8 475.9 C134.93 472.71 135.44 458.41 135.6 453.1 C135.76 447.79 136.08 438.88 136.2 430.4 C136.32 421.92 136.46 392.07 136.6 380.4 C136.74 368.73 137.25 339.44 137.4 330.4 C137.55 321.36 137.78 302.9 137.9 302.9 C138.02 302.9 138.22 321.36 138.4 330.4 C138.58 339.44 139.19 368.73 139.4 380.4 C139.61 392.07 140.04 421.92 140.2 430.4 C140.36 438.88 140.57 447.79 140.8 453.1 C141.03 458.41 141.92 472.45 142.2 475.9 C142.48 479.35 142.95 481.82 143.2 482.7 C143.44 483.57 144.02 483.53 144.3 483.4 C144.58 483.27 145.33 482.07 145.6 481.6 C145.87 481.13 146.37 479.73 146.6 479.4 C146.83 479.07 147.37 478.76 147.6 478.8 C147.83 478.84 148.34 479.23 148.6 479.7 C148.86 480.17 149.49 482.23 149.8 482.8 C150.12 483.37 150.81 484.27 151.3 484.6 C151.79 484.93 152.99 485.38 154 485.6 C155.01 485.82 158.13 486.35 160 486.5 C161.87 486.65 167.67 486.82 170 486.9 C172.33 486.98 151.73 487.16 180 487.2 C208.27 487.24 385.2 487.2 412.3 487.2" class="cv"/>
<line x1="133.7" y1="485.65" x2="144.4" y2="485.85" class="bl2"/>
<ellipse cx="133.7" cy="485.2" rx="3.6" ry="2.1" class="mk"/>
<circle cx="133.7" cy="485" r="1.3" class="mkc"/>
<ellipse cx="144.4" cy="485.4" rx="3.6" ry="2.1" class="mk"/>
<circle cx="144.4" cy="485.2" r="1.3" class="mkc"/>
</svg>
</body></html>
